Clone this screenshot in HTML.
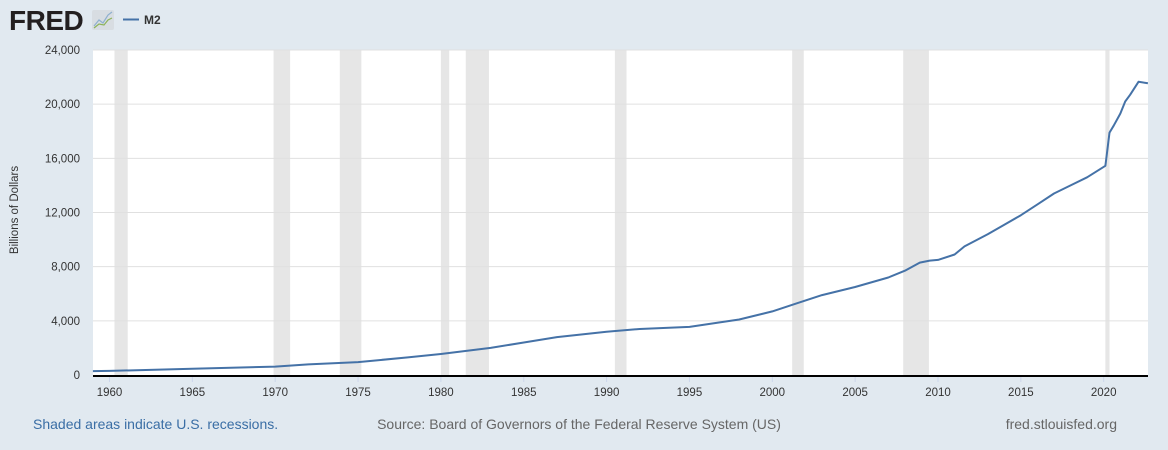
<!DOCTYPE html>
<html><head><meta charset="utf-8"><style>
body{margin:0;background:#e1e9f0;font-family:"Liberation Sans",sans-serif;}
#c{position:relative;width:1168px;height:450px;background:#e1e9f0;}
</style></head><body><div id="c">
<svg id="s" width="1168" height="450" xmlns="http://www.w3.org/2000/svg" style="position:absolute;left:0;top:0">
<text x="9" y="30" font-family="Liberation Sans" font-weight="bold" font-size="28" fill="#231f20" letter-spacing="-0.5">FRED</text>
<rect x="92" y="10" width="22" height="20" rx="2" fill="#d8dde2"/>
<polyline points="94,26 99,20 103,23 108,15 112,12" fill="none" stroke="#8fb0cf" stroke-width="1.2"/>
<polyline points="94,28 99,24 104,25 108,20 112,18" fill="none" stroke="#8db35a" stroke-width="1.2"/>
<line x1="123" y1="19.5" x2="139" y2="19.5" stroke="#4572a7" stroke-width="2"/>
<text x="144" y="24" font-size="12" font-weight="bold" fill="#333">M2</text>
<rect x="93" y="50" width="1055" height="325" fill="#fff"/>
<g id="rec" fill="#e6e6e6"></g>
<g id="grid" stroke="#e0e0e0" stroke-width="1"></g>
<g id="yl" font-size="11.5" fill="#333" text-anchor="end"></g>
<g id="xl" font-size="11.5" fill="#333" text-anchor="middle"></g>
<polyline id="line" fill="none" stroke="#4572a7" stroke-width="2" stroke-linejoin="round"/>
<line x1="93" y1="376" x2="1148" y2="376" stroke="#000" stroke-width="2"/>
<text x="18" y="210" font-size="11.5" fill="#333" text-anchor="middle" transform="rotate(-90 18 210)">Billions of Dollars</text>
<text x="33" y="429" font-size="14" fill="#3a6ea5">Shaded areas indicate U.S. recessions.</text>
<text x="579" y="429" font-size="14" fill="#666" text-anchor="middle">Source: Board of Governors of the Federal Reserve System (US)</text>
<text x="1117" y="429" font-size="14" fill="#666" text-anchor="end">fred.stlouisfed.org</text>
</svg></div>
<script>
var NS="http://www.w3.org/2000/svg";
function X(y){return 109.5+(y-1960)*16.57;}
function Y(v){return 375-v/24000*325;}
function el(p,t,a,txt){var e=document.createElementNS(NS,t);for(var k in a)e.setAttribute(k,a[k]);if(txt)e.textContent=txt;document.getElementById(p).appendChild(e);}
[[1960.3,1961.1],[1969.9,1970.9],[1973.9,1975.2],[1980.0,1980.5],[1981.5,1982.9],[1990.5,1991.2],[2001.2,2001.9],[2007.9,2009.45],[2020.1,2020.35]].forEach(function(r){el("rec","rect",{x:X(r[0]),y:50,width:X(r[1])-X(r[0]),height:325});});
for(var v=4000;v<=24000;v+=4000){el("grid","line",{x1:93,x2:1148,y1:Y(v),y2:Y(v)});}
for(var v=0;v<=24000;v+=4000){el("yl","text",{x:80,y:Y(v)+4},v.toLocaleString("en-US"));}
for(var y=1960;y<=2020;y+=5){el("xl","text",{x:X(y),y:396},""+y);el("grid","line",{x1:X(y),x2:X(y),y1:377,y2:382,stroke:"#ccd6eb"});}
var d=[[1959,287],[1960,300],[1965,460],[1970,620],[1972,780],[1975,950],[1978,1300],[1980,1550],[1983,2000],[1985,2400],[1987,2800],[1990,3200],[1992,3400],[1995,3550],[1998,4100],[2000,4700],[2001.5,5300],[2003,5900],[2005,6500],[2007,7200],[2008,7700],[2008.9,8300],[2009.5,8450],[2010,8500],[2011,8900],[2011.6,9500],[2013,10400],[2014,11100],[2015,11800],[2016,12600],[2017,13400],[2018,14000],[2019,14600],[2020.1,15450],[2020.35,17900],[2020.6,18400],[2021,19300],[2021.3,20200],[2021.6,20700],[2022.1,21650],[2022.67,21550]];
document.getElementById("line").setAttribute("points",d.map(function(p){return X(p[0]).toFixed(1)+","+Y(p[1]).toFixed(1);}).join(" "));
</script>
</body></html>
